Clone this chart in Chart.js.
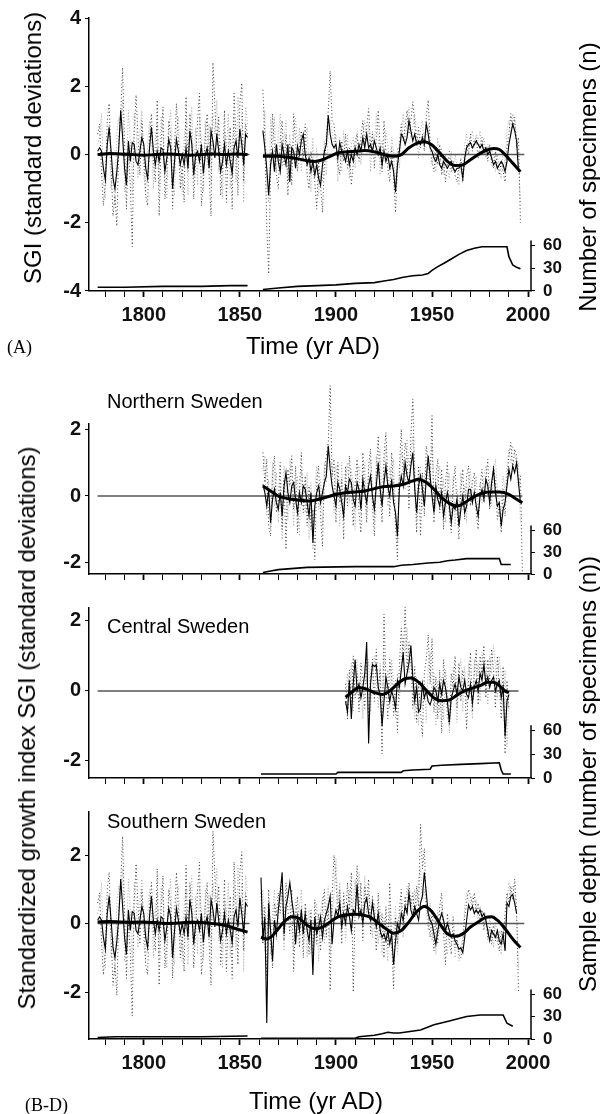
<!DOCTYPE html>
<html>
<head>
<meta charset="utf-8">
<script src="https://cdn.jsdelivr.net/npm/chart.js"></script>
<style>
  html, body { margin: 0; padding: 0; background: #fff; }
  #page { position: relative; width: 600px; height: 1114px; overflow: hidden; }
  .layer { position: absolute; left: 0; top: 0; width: 600px; height: 1114px; }
  .lbl { position: absolute; font-family: 'Liberation Sans', Arial, sans-serif; color: #000; white-space: nowrap; line-height: 1; }
  .rot { transform: translate(-50%, -50%) rotate(-90deg); }
  .mid { transform: translate(-50%, -50%); }
  .tag { font-family: 'Liberation Serif', 'Times New Roman', serif; font-size: 18px; transform: translateY(-50%); }
  .region { font-size: 20px; transform: translateY(-50%); }
</style>
</head>
<body>
<div id="page">
  <div class="layer"><canvas id="chartA"></canvas></div>
  <div class="layer"><canvas id="chartB"></canvas></div>
  <div class="layer"><canvas id="chartC"></canvas></div>
  <div class="layer"><canvas id="chartD"></canvas></div>

  <div class="lbl rot" style="left:33px; top:148px; font-size:24px;">SGI (standard deviations)</div>
  <div class="lbl rot" style="left:588px; top:177px; font-size:24px;">Number of specimens (n)</div>
  <div class="lbl mid" style="left:313px; top:346px; font-size:24px;">Time (yr AD)</div>
  <div class="lbl tag" style="left:7px; top:347px;">(A)</div>

  <div class="lbl region" style="left:107px; top:401px;">Northern Sweden</div>
  <div class="lbl region" style="left:107px; top:626px;">Central Sweden</div>
  <div class="lbl region" style="left:107px; top:821px;">Southern Sweden</div>

  <div class="lbl rot" style="left:27px; top:728px; font-size:24px;">Standardized growth index SGI (standard deviations)</div>
  <div class="lbl rot" style="left:588px; top:774px; font-size:24px;">Sample depth (number of specimens (n))</div>
  <div class="lbl mid" style="left:316px; top:1101px; font-size:24px;">Time (yr AD)</div>
  <div class="lbl tag" style="left:25px; top:1105px;">(B-D)</div>
</div>

<script>
// ---------- data ----------
const xTicks = [1780,1790,1800,1810,1820,1830,1840,1850,1860,1870,1880,1890,1900,1910,1920,1930,1940,1950,1960,1970,1980,1990,2000];
const sgiTicksA = [-4, -2, 0, 2, 4];
const sgiTicksBD = [-2, 0, 2];
const depthTicks = [0, 30, 60];

// southern record before the 1855-1861 gap (shared by A and D), annual from 1776
const southEarlyStart = 1776;
const southEarlySgi = [
  0.1, 0.2, 0.1, -0.4, -0.75, 0.3, 0.8, 0.1, -0.7, -1.0,
  -0.5, 0.2, 1.3, 0.5, -0.4, -0.9, 0.4, -0.2, 0.35, 0.3,
  -0.2, -0.3, 0.1, 0.5, 0.3, -0.4, -0.7, 0.2, 0.8, 0.1,
  -0.3, 0.1, -0.2, 0.2, 0.15, -0.5, -0.1, 0.45, 0.2, -1.0,
  -0.2, 0.45, 0.1, -0.3, 0.0, -0.3, 0.2, -0.4, 0.7, 0.3,
  -0.6, 0.0, 0.1, -0.2, 0.3, -0.55, 0.0, 0.2, -0.4, 0.7,
  0.4, -0.1, 0.6, 0.1, -0.5, -0.2, 0.3, -0.3, 0.1, -0.2,
  -0.55, 0.2, 0.4, -0.1, 0.75, 0.3, -0.3, 0.6, 0.5
];
const southEarlyDark = [
  0.6, 0.9, -0.5, -1.5, -0.8, 1.0, 1.5, -0.3, -1.8, -1.2,
  -2.1, 0.4, 1.2, 2.55, 0.3, -1.6, 0.2, -0.9, -2.7, 0.6,
  1.75, 0.5, -0.6, 1.0, 0.2, -1.2, -1.5, 0.5, 1.2, -0.2,
  -0.8, 1.6, -1.8, 0.3, 1.4, -1.3, -0.6, 1.0, 0.6, -1.6,
  0.2, 1.5, 0.4, -1.0, -0.3, -1.4, 1.7, -0.5, 1.2, 0.4,
  -1.3, -0.1, 1.0, 1.8, -1.5, -0.8, 0.5, 1.2, -0.6, -1.8,
  2.7, 1.4, 0.3, 1.1, -1.2, -0.4, 1.3, -1.4, 0.2, 0.8,
  -1.6, 1.8, 0.5, -1.2, 1.5, 2.1, -0.8, 0.9, 0.6
];
const southEarlyGrey = [
  0.3, 0.5, 1.2, -0.8, -1.3, 0.2, 0.9, -1.0, -0.4, -1.5,
  0.6, 1.1, 0.7, 1.6, -1.1, -0.5, 1.3, 0.4, -1.2, 1.2,
  0.8, -0.7, 0.6, 1.3, -0.6, -1.1, 0.3, 1.0, 0.4, -1.0,
  0.5, 0.9, -0.9, 1.1, 0.6, -0.6, -1.3, 0.7, 1.3, -0.7,
  -1.2, 0.8, 1.1, -0.4, -1.1, 0.5, 1.0, -1.2, 0.6, 1.4,
  -0.7, 0.8, -0.9, 1.1, 0.4, -1.1, 1.0, -0.3, 0.9, -0.9,
  1.2, 0.6, 1.6, -0.5, 0.4, -1.3, 0.7, 0.2, 1.2, -1.0,
  0.3, 1.1, -0.8, 1.7, 0.2, 1.2, -1.4, 1.4, 0.9
];
const smoothEarlyYears = [1776,1782,1788,1794,1800,1806,1812,1818,1824,1830,1836,1842,1848,1854];
const smoothEarlyA = [0.0, 0.03, 0.02, 0.0, -0.02, 0.0, 0.02, 0.0, -0.02, 0.0, 0.02, 0.0, 0.02, 0.0];
const smoothEarlyD = [0.05, 0.06, 0.05, 0.04, 0.05, 0.03, 0.0, 0.02, 0.04, 0.03, 0.0, -0.05, -0.15, -0.25];
const depthEarlyAYears = [1776, 1790, 1810, 1830, 1845, 1854];
const depthEarlyA = [5, 5, 6, 6, 7, 7];
const depthEarlyDYears = [1776, 1785, 1800, 1830, 1854];
const depthEarlyD = [2, 3, 3, 3, 4];

// (A) Sweden, after the gap
const aLateStart = 1862;
const aLateSgi = [
  0.7, 0.2, -0.4, -1.2, -0.3, 0.1, -0.5, 0.3, -0.2, -0.5,
  0.3, 0.0, -0.3, 0.3, -0.8, 0.2, 0.1, -0.4, 0.25, 0.0,
  0.4, 0.6, 0.0, -0.3, -0.1, -0.5, -0.2, -0.6, -0.3, -0.7,
  -0.9, -0.3, 0.1, 0.3, 1.15, 0.6, 0.3, 0.2, 0.3, -0.1,
  0.35, 0.1, 0.0, -0.2, 0.1, -0.3, 0.0, -0.2, 0.2, 0.0,
  0.3, 0.1, 0.5, 0.2, 0.6, 0.2, 0.3, 0.1, 0.4, 0.2,
  0.0, 0.2, -0.3, 0.1, -0.2, 0.0, -0.4, -0.2, -0.5, -1.1,
  -0.3, 0.1, 0.6, 0.5, 0.3, 0.5, 1.0, 0.7, 0.4, 0.6,
  0.3, 0.4, 0.3, 0.5, 0.3, 0.9, 0.6, 0.2, 0.1, -0.1,
  -0.2, 0.0, -0.3, -0.4, -0.2, -0.3, -0.4, -0.3, -0.2, -0.4,
  -0.5, -0.4, -0.4, -0.3, -0.7, -0.1, 0.2, 0.3, 0.35, 0.2,
  0.3, 0.4, 0.3, 0.2, 0.3, 0.1, 0.2, 0.0, 0.1, -0.1,
  -0.3, -0.2, -0.4, -0.3, -0.2, -0.3, -0.5, -0.2, 0.3, 0.6,
  0.9, 0.7, 0.4, -0.5
];
const aLateDark = [
  1.9, 0.5, -2.1, -3.5, -0.4, 1.2, 0.2, -0.6, -1.0, 0.4,
  1.0, -0.3, 0.6, -1.2, 0.3, -0.9, 1.2, 0.4, -0.5, 0.2,
  0.7, -0.2, 0.9, -0.6, -1.0, 0.1, -0.4, -0.8, -1.6, -0.2,
  -0.9, -1.7, -0.3, 0.5, 1.3, 2.45, 1.0, 0.9, 0.2, -0.3,
  -0.6, 0.4, -0.2, 0.6, -0.4, 0.2, -0.9, -0.3, 0.4, 0.6,
  -0.2, 0.5, 1.0, 0.3, 0.8, 1.35, 0.2, 0.6, -0.4, 0.5,
  1.3, 0.2, -0.5, 1.0, 0.1, -0.4, -0.8, 0.2, -0.6, -1.7,
  -0.4, 0.3, 0.9, 0.4, 0.8, 1.3, 0.6, 1.0, 1.55, 0.9,
  0.3, 0.8, 0.2, 0.6, 0.1, 1.1, 1.6, 0.4, -0.2, -0.5,
  0.2, -0.3, 0.3, -0.6, -0.2, -0.8, -0.3, 0.1, -0.5, -0.2,
  -0.6, -0.8, -0.4, -0.1, -0.8, -0.2, 0.3, 0.0, 0.6, 0.1,
  0.4, 0.5, -0.1, 0.3, 0.5, 0.0, 0.2, -0.2, 0.3, -0.3,
  -0.4, 0.1, -0.3, -0.6, -0.2, -0.5, -0.8, 0.2, 0.6, 1.2,
  0.8, 1.1, 0.2, 0.5, -2.0
];
const aLateGrey = [
  0.6, 1.3, -0.8, -1.4, 1.1, 0.3, 1.1, -0.5, 0.6, 1.2,
  -0.4, 0.5, 1.0, -0.8, 0.6, -0.3, 0.5, 1.1, 0.2, 0.8,
  -0.5, 0.4, 0.3, 0.8, -0.3, -1.1, 0.5, -0.6, 0.2, -1.2,
  -0.5, -0.8, 0.4, -0.6, 0.7, 1.0, 0.7, 0.3, 0.6, -0.8,
  0.5, -0.5, 0.7, -0.2, 0.6, -0.7, 0.3, 0.5, -0.4, 0.7,
  0.2, -0.3, 0.6, 1.0, 0.4, 0.9, -0.5, 0.7, 0.3, 1.2,
  0.5, -0.6, 0.4, -0.2, 0.7, 0.3, -0.4, 0.5, 0.1, -0.9,
  0.2, -0.4, 0.5, 1.2, 0.4, 0.9, 1.4, 0.5, 0.8, 1.2,
  0.6, -0.1, 0.7, 1.0, 0.3, 0.6, 0.9, 0.1, -0.3, 0.3,
  -0.5, 0.5, -0.3, 0.2, -0.6, 0.0, -0.4, -0.7, 0.1, -0.5,
  0.0, -0.3, -0.9, -0.2, -0.6, 0.3, 0.6, 0.2, 0.5, 0.7,
  0.2, 0.6, 0.4, 0.7, 0.2, 0.5, -0.1, 0.3, 0.1, 0.2,
  -0.2, -0.5, 0.0, -0.4, -0.7, 0.1, -0.3, 0.7, 1.0, 0.6,
  1.2, 0.9, 0.6, -0.3, -1.4
];
const aSmoothYears = [1862,1866,1870,1875,1880,1885,1889,1893,1897,1901,1905,1910,1915,1920,1925,1930,1934,1938,1942,1946,1950,1954,1958,1962,1966,1970,1974,1978,1982,1985,1988,1992,1996];
const aSmooth = [-0.05,-0.05,-0.05,-0.08,-0.12,-0.18,-0.2,-0.15,-0.05,0.05,0.08,0.1,0.12,0.08,0.0,-0.05,0.0,0.2,0.33,0.38,0.28,0.05,-0.2,-0.32,-0.3,-0.15,0.0,0.12,0.18,0.15,0.0,-0.25,-0.5];
const aDepthYears = [1862,1870,1880,1890,1900,1910,1920,1925,1930,1935,1940,1945,1948,1950,1953,1956,1960,1964,1968,1972,1976,1980,1985,1989,1990,1992,1994,1996];
const aDepth = [2,4,6,7,8,10,11,13,15,18,20,21,23,27,32,36,42,48,53,56,58,58,58,58,45,34,31,29];

// (B) Northern Sweden
const bStart = 1862;
const bSgi = [
  0.35, 0.1, -0.3, 0.2, -0.8, -0.1, 0.2, -0.2, -0.4, 0.1,
  -0.6, 0.3, 0.7, 0.1, -0.2, 0.3, 0.4, -0.1, -0.5, 0.1,
  -0.2, 0.3, 0.2, -0.2, -0.6, 0.1, -1.4, -0.3, 0.1, 0.3,
  -0.2, 0.1, 0.4, 0.6, 1.5, 0.8, 0.3, 0.0, -0.3, 0.4,
  0.2, -0.2, -0.6, 0.3, 0.1, 0.5, 0.4, -0.1, -0.3, 0.4,
  0.2, -0.4, 0.5, 0.1, -0.2, 0.3, 0.6, 0.0, -0.4, 0.3,
  1.0, 0.2, -0.3, 0.4, 0.9, 0.3, 0.0, 0.5, -0.2, -0.5,
  -1.2, 0.2, 0.6, 0.3, 1.0, 0.6, 0.4, 0.9, 1.3, 0.2,
  -0.5, 0.3, 0.6, 0.2, -0.3, 0.5, 1.2, 0.6, 0.0, -0.5,
  0.3, -0.1, -0.3, 0.1, -0.6, -0.2, 0.1, -0.3, -0.8, -0.3,
  -0.4, -0.1, -0.9, -0.4, 0.0, -0.5, -0.3, 0.2, 0.2, -0.2,
  0.1, -0.3, -0.6, 0.0, 0.2, -0.1, 0.5, 0.3, -0.2, 0.4,
  0.8, 0.1, -0.3, -0.2, -0.9, -0.4, -0.2, 0.3, 0.8, 0.5,
  0.9, 0.7, 1.0, 0.4, -0.2
];
const bDark = [
  1.3, 0.4, 1.1, -0.9, -1.2, 0.6, 1.2, -0.5, -0.2, 1.0,
  -1.0, 0.5, -1.6, 0.8, 0.3, 1.2, -0.4, 0.9, -1.1, 0.2,
  1.3, -0.5, 0.6, -0.9, 0.3, -1.0, -0.4, -1.9, 0.5, 0.9,
  -0.6, -1.5, 0.7, 1.2, 1.6, 3.3, 0.6, 1.1, -0.8, 1.0,
  -0.2, 0.5, -1.3, 0.9, -0.3, 1.2, 0.3, -0.9, 0.4, 1.1,
  -0.5, -1.1, 1.3, 0.2, -0.8, 0.9, 1.4, -0.3, -1.2, 0.7,
  1.8, 0.1, -0.8, 1.2, 1.9, 0.5, -0.6, 1.3, 0.2, -0.9,
  -1.9, 0.8, 2.0, 0.6, 1.6, 1.2, -0.4, 1.8, 2.9, 0.4,
  -1.1, 0.9, -1.2, 0.7, -0.6, 1.5, 1.1, 0.3, 2.4, -0.8,
  0.6, 1.1, -0.5, 0.8, -1.0, 0.4, 1.0, -0.6, -1.1, 0.3,
  0.9, -0.4, -1.3, 0.2, 0.8, -0.7, 0.6, 0.9, -0.3, 0.4,
  0.7, -0.5, -1.0, 0.3, 0.8, -0.2, 0.5, 1.1, -0.4, 0.2,
  0.9, 0.4, -0.7, -0.3, -1.1, 0.2, -0.6, 0.5, 1.2, 1.6,
  0.8, 1.4, 1.2, 0.3, 0.6, -2.3
];
const bGrey = [
  0.8, 1.2, -0.6, 0.5, -1.0, 1.0, -0.3, 0.7, -0.8, 0.4,
  -1.3, 0.9, 0.2, -0.7, 1.1, 0.5, -0.9, 0.3, 0.6, -1.2,
  0.8, 0.1, -0.5, 0.7, -1.3, 0.4, -1.6, 0.2, 0.9, -0.4,
  0.5, -0.9, 1.0, 0.4, 1.4, 1.1, 0.8, -0.5, 0.9, 0.3,
  -0.9, 1.0, -0.4, 0.6, 1.0, -0.2, 0.8, 0.3, -1.0, 0.6,
  0.9, -0.6, 0.4, 1.0, -0.5, 0.7, 1.1, 0.2, -0.8, 1.2,
  0.6, 1.4, -0.4, 0.8, 1.5, -0.3, 0.9, 0.4, 1.1, -0.6,
  -1.4, 0.5, 1.3, 1.0, 0.2, 1.7, 0.9, 1.2, 1.8, 1.0,
  -0.7, 0.5, 0.9, -0.4, 0.6, 1.0, 0.3, 0.9, 1.5, 0.2,
  -0.4, 0.6, 0.9, -0.3, 0.5, -0.8, 0.4, 0.7, -0.5, 0.6,
  -0.9, 0.2, -0.6, 0.7, -0.4, 0.3, -0.8, 0.5, 0.8, -0.3,
  0.3, 0.6, -0.7, 0.4, -0.2, 0.6, 0.9, 0.0, 0.5, -0.3,
  0.7, 1.1, 0.2, -0.6, -0.3, 0.6, 0.1, 0.9, 1.4, 1.0,
  1.5, 1.3, 0.8, 1.0, -0.8
];
const bSmoothYears = [1862,1866,1870,1875,1880,1886,1891,1896,1900,1905,1910,1915,1920,1925,1930,1935,1940,1943,1947,1951,1955,1959,1963,1967,1971,1976,1981,1985,1990,1994,1997];
const bSmooth = [0.3,0.15,0.0,-0.08,-0.12,-0.15,-0.1,-0.02,0.05,0.1,0.12,0.15,0.22,0.28,0.3,0.35,0.45,0.5,0.4,0.2,-0.05,-0.22,-0.3,-0.2,-0.05,0.08,0.12,0.12,0.05,-0.1,-0.2];
const bDepthYears = [1862,1866,1870,1875,1880,1885,1910,1930,1934,1940,1944,1948,1954,1958,1962,1968,1985,1986,1991];
const bDepth = [2,4,6,7,8,9,10,10,12,13,14,15,16,18,19,21,21,13,13];

// (C) Central Sweden
const cStart = 1905;
const cSgi = [
  -0.3, -0.6, 0.3, -0.8, 0.2, 0.9, 0.0, 0.2, -0.2, 0.1,
  0.5, 1.4, -1.5, 0.2, 0.75, 0.7, 0.75, 0.1, -0.1, -1.0,
  -0.3, 0.4, 0.1, -0.3, 0.0, -0.2, -0.5, 0.3, 0.1, 0.6,
  1.1, 0.2, 0.5, 0.8, 1.3, 0.4, -0.3, 0.1, -0.6, -0.5,
  0.2, -0.2, 0.0, -0.3, -0.4, -0.2, 0.1, 0.0, -0.3, 0.2,
  -0.1, 0.3, 0.1, -0.3, -0.9, -0.2, 0.0, 0.2, -0.1, 0.4,
  0.1, 0.0, 0.3, -0.1, -0.2, 0.2, -0.35, 0.1, 0.3, 0.0,
  0.5, 0.3, 0.75, 0.2, 0.4, 0.1, 0.3, 0.4, 0.0, 0.2,
  0.3, -0.2, 0.1, -1.3, -0.3, -0.1
];
const cDark = [
  0.2, -0.8, 0.6, -0.4, 1.0, -0.2, 0.5, -0.6, 0.8, 0.3,
  -0.5, 1.0, -0.9, 0.4, 0.9, -0.3, 1.2, 0.0, 0.6, -1.8,
  2.2, 0.3, -0.8, 0.9, 0.4, -0.7, 0.3, -1.2, 0.7, 1.8,
  0.9, 2.4, 0.6, 1.4, 1.0, -0.5, 0.7, -0.9, 0.2, -0.6,
  -1.3, 0.5, 0.9, 1.6, 0.2, 1.5, -0.6, 0.4, -0.8, 0.6,
  -1.2, 0.9, 0.2, -0.7, -1.0, 0.5, 0.1, 1.0, -0.5, 0.8,
  -0.3, 0.6, 0.2, -1.1, 0.3, 1.1, -0.6, 0.5, 1.2, -0.4,
  1.0, 0.4, 1.3, -0.2, 0.9, 0.3, 1.2, 0.6, -0.5, 1.0,
  0.2, -0.8, 0.7, -1.8, 0.3, -0.5
];
const cGrey = [
  -0.4, 0.5, -0.2, 0.8, -0.6, 0.6, 0.9, -0.3, 0.4, -0.8,
  0.7, 0.2, 0.9, -0.6, 0.3, 1.0, 0.4, -0.5, 0.8, -0.9,
  1.1, -0.2, 0.6, -0.5, 0.9, 0.2, -0.8, 0.5, -0.3, 0.9,
  1.5, 1.0, 1.8, 0.5, 0.9, 0.1, -0.8, 0.4, -1.0, 0.3,
  -0.5, 0.2, -0.9, 0.7, 1.1, -0.3, 0.5, -1.0, 0.3, -0.6,
  0.4, -0.8, 0.6, 0.1, -1.2, -0.4, 0.7, 0.2, -0.9, 0.5,
  0.9, -0.6, 0.7, -0.4, 0.8, 0.2, -0.8, 0.9, 0.4, 0.8,
  -0.3, 1.1, 0.6, 0.9, -0.4, 1.0, 0.5, 1.3, 0.7, -0.2,
  1.0, 0.4, -0.6, 0.6, -1.6, 0.0
];
const cSmoothYears = [1905,1908,1912,1916,1920,1924,1928,1932,1936,1939,1943,1947,1951,1955,1959,1963,1967,1971,1975,1979,1982,1985,1988,1990];
const cSmooth = [-0.18,-0.05,0.1,0.05,-0.05,-0.1,0.0,0.2,0.35,0.37,0.25,0.02,-0.2,-0.28,-0.26,-0.12,0.0,0.08,0.15,0.25,0.25,0.15,0.0,-0.05];
const cDepthYears = [1861,1900,1901,1934,1935,1940,1949,1950,1955,1965,1975,1985,1986,1987,1991];
const cDepth = [5,5,7,7,9,10,11,15,16,17,18,19,10,5,5];

// (D) Southern Sweden, after the gap
const dLateStart = 1861;
const dLateSgi = [
  1.35, -0.5, 0.2, -2.9, 0.6, -0.2, -1.1, 0.1, -0.3, 0.4,
  0.9, 1.5, -0.3, 0.5, 0.8, 1.2, 0.7, 0.3, -0.6, 0.2,
  -0.2, 0.4, -0.3, 0.3, -0.2, -0.5, 0.1, -1.5, 0.2, -0.3,
  -0.1, 0.2, -0.4, 0.1, 0.3, 0.5, 0.8, -0.6, 0.1, 0.4,
  0.2, 0.6, -0.1, 0.3, 0.0, 0.5, 0.2, -0.2, 0.4, 0.3,
  1.15, 0.2, 0.4, 0.0, 0.6, 0.75, 0.3, 0.1, 0.6, 0.2,
  -0.1, 0.3, -0.2, -0.4, -0.3, -0.5, -0.2, -0.6, -0.3, -1.2,
  -0.5, 0.0, -0.2, 0.3, 0.1, 0.5, 0.3, 0.9, 0.4, 0.2,
  0.5, 0.3, 0.1, 0.6, 0.8, 1.5, 0.9, 0.3, 0.1, 0.0,
  -0.3, -0.6, -0.2, 0.1, 0.3, 0.1, -0.2, 0.0, -0.2, -0.4,
  -0.3, -0.5, -0.6, -0.75, -0.7, -0.85, -0.4, 0.1, 0.55, 0.4,
  0.5, 0.3, 0.4, 0.3, 0.4, 0.2, 0.3, 0.1, -0.2, -0.5,
  -0.2, -0.3, -0.4, -0.2, -0.5, -0.6, -0.3, -0.8, 0.6, 0.5,
  0.8, 0.85, 0.6, 0.3
];
const dLateDark = [
  0.9, -0.6, 0.5, -1.6, 1.0, -0.4, -1.3, 0.6, 0.2, 0.9,
  0.3, 1.3, -0.5, 1.2, 0.4, -0.3, 1.0, -1.4, 0.2, 0.8,
  -0.7, 0.5, -1.0, 0.6, 0.1, -0.9, 0.4, -1.2, 0.7, -0.6,
  0.3, -0.8, 0.5, 1.0, -0.4, 0.6, -1.95, 0.8, 2.0, 1.3,
  0.2, 1.0, -0.6, 0.9, 0.1, 1.2, 0.4, 1.5, -2.0, 0.5,
  1.7, 0.3, 1.2, -0.5, 1.1, 0.6, 1.3, -0.3, 0.8, 0.2,
  -0.8, 0.9, -0.4, 0.3, -1.0, 0.5, -0.7, 1.2, -0.5, -1.9,
  0.2, -0.6, 0.4, 1.0, -0.2, 0.8, 0.3, 1.2, 0.5, 0.9,
  0.2, 1.1, 0.5, 2.9, 1.6, 2.2, 0.6, 0.2, -0.4, 0.4,
  -0.8, 0.1, -0.6, 0.5, 0.9, -0.3, -1.2, 0.3, -0.5, -0.9,
  0.2, -0.7, -0.4, -0.9, -1.0, -0.6, 0.2, 0.6, 1.0, 0.8,
  0.5, 0.9, 0.3, 0.6, 0.1, 0.4, -0.2, 0.2, -0.4, -0.1,
  -0.6, 0.0, -0.5, -0.3, -0.8, -0.2, -0.6, 0.3, 0.9, 0.6,
  1.1, 0.7, 1.3, 0.4, -2.0
];
const dLateGrey = [
  0.4, 1.0, -0.8, -0.3, 0.7, -0.9, 0.3, 1.0, -0.5, 0.2,
  1.1, 0.6, -0.8, 0.3, 1.0, 0.5, -0.2, -0.8, 0.7, -0.4,
  0.5, 1.0, -0.6, 0.2, -1.0, 0.4, -0.9, 0.1, -0.5, 0.6,
  -1.1, 0.3, 0.8, -0.6, 0.4, 1.1, -0.9, 0.3, 0.9, 1.9,
  0.6, 1.2, 0.0, 0.7, -0.5, 0.4, 1.0, -0.3, 0.6, 1.3,
  0.4, 1.5, 0.8, 0.2, 1.4, 0.3, 0.9, 0.5, -0.4, 0.6,
  0.1, -0.6, 0.5, -0.9, 0.2, -0.4, -1.1, 0.4, -0.8, -0.2,
  0.5, -0.9, 0.2, 0.6, -0.4, 0.4, 1.1, 0.6, 0.8, 0.3,
  1.0, 0.5, 1.3, 1.6, 0.7, 1.0, 0.4, -0.2, 0.6, -0.5,
  0.3, -0.9, 0.4, -0.3, 0.6, 0.2, -0.6, -0.9, 0.1, -0.6,
  -0.3, -1.0, -0.5, -1.1, -0.7, -0.4, 0.5, 0.9, 0.7, 0.6,
  0.8, 0.2, 0.7, 0.0, 0.5, 0.3, -0.1, 0.3, -0.5, 0.2,
  -0.3, -0.7, 0.1, -0.6, -0.2, -0.9, 0.0, -0.4, 0.7, 1.2,
  0.8, 1.1, 0.9, 0.2, -1.3
];
const dSmoothYears = [1861,1864,1867,1870,1873,1877,1881,1885,1889,1893,1897,1901,1905,1910,1914,1918,1922,1926,1930,1934,1938,1942,1946,1950,1954,1958,1962,1966,1970,1974,1978,1981,1984,1988,1992,1996];
const dSmooth = [-0.4,-0.45,-0.35,-0.15,0.05,0.2,0.15,-0.05,-0.15,-0.1,0.05,0.2,0.25,0.27,0.25,0.18,0.02,-0.15,-0.28,-0.2,0.05,0.35,0.5,0.35,0.0,-0.3,-0.37,-0.3,-0.1,0.05,0.18,0.2,0.1,-0.15,-0.45,-0.7];
const dDepthYears = [1861,1910,1912,1920,1924,1927,1930,1933,1944,1951,1959,1968,1975,1987,1989,1992];
const dDepth = [1,1,3,5,7,9,8,8,12,19,24,30,32,32,21,17];

// mean (zero) reference lines: [from, to] per record segment
const zeroA = [[1776, 1855], [1862, 1998]];
const zeroB = [[1776, 1997]];
const zeroC = [[1776, 1995]];
const zeroD = [[1776, 1855], [1861, 1998]];

// ---------- helpers ----------
const annual = (start, vals) => vals.map((v, i) => ({ x: start + i, y: v }));
const paired = (years, vals) => years.map((yr, i) => ({ x: yr, y: vals[i] }));

const tickFont = { family: "'Liberation Sans', Arial, sans-serif", size: 20, weight: 'bold' };
const depthFont = { family: "'Liberation Sans', Arial, sans-serif", size: 17, weight: 'bold' };

function smoothSet(data) { return { data, borderColor: '#000', borderWidth: 3, cubicInterpolationMode: 'monotone', yAxisID: 'y' }; }
function sgiSet(data) { return { data, borderColor: '#000', borderWidth: 1.1, yAxisID: 'y' }; }
function darkSet(data) { return { data, borderColor: '#3a3a3a', borderWidth: 1, borderDash: [1, 2.5], yAxisID: 'y' }; }
function greySet(data) { return { data, borderColor: '#ababab', borderWidth: 1, borderDash: [1, 2], yAxisID: 'y' }; }
function depthSet(data) { return { data, borderColor: '#000', borderWidth: 1.6, yAxisID: 'yN' }; }
function zeroSets(spans) {
  return spans.map(s => ({ data: [{ x: s[0], y: 0 }, { x: s[1], y: 0 }], borderColor: '#555', borderWidth: 1.5, yAxisID: 'y' }));
}

// short right-hand axis line for the sample depth scale
const depthAxisLine = {
  id: 'depthAxisLine',
  afterDraw(chart) {
    const s = chart.scales.yN;
    const x = chart.chartArea.right;
    const ctx = chart.ctx;
    ctx.save();
    ctx.strokeStyle = '#000';
    ctx.lineWidth = 1.5;
    ctx.beginPath();
    ctx.moveTo(x, s.getPixelForValue(0));
    ctx.lineTo(x, s.getPixelForValue(66));
    ctx.stroke();
    ctx.restore();
  }
};

function makePanel(id, p) {
  const H = p.bottom - p.top;
  const depthMax = 60 * H / p.px60;
  const xH = p.labels ? 46 : 10;
  new Chart(document.getElementById(id), {
    type: 'line',
    data: { datasets: p.datasets.map(d => Object.assign({ pointRadius: 0, tension: 0, clip: false, fill: false }, d)) },
    plugins: [depthAxisLine],
    options: {
      responsive: true,
      maintainAspectRatio: false,
      animation: false,
      events: [],
      layout: { padding: { top: p.top, bottom: 1114 - p.bottom - xH, left: 0, right: 0 } },
      plugins: { legend: { display: false }, tooltip: { enabled: false } },
      scales: {
        x: {
          type: 'linear', min: 1771.5, max: 2001.5,
          afterBuildTicks: s => { s.ticks = xTicks.map(v => ({ value: v })); },
          afterFit: s => { s.height = xH; },
          border: { color: '#000', width: 1.5 },
          grid: { drawOnChartArea: false, drawTicks: true, tickLength: 6, tickColor: '#000',
                  tickWidth: c => (c.tick && c.tick.value % 50 === 0) ? 1.8 : 1 },
          ticks: { display: p.labels, autoSkip: false, maxRotation: 0, padding: 6, color: '#111', font: tickFont,
                   callback: v => (v % 50 === 0 ? String(v) : '') }
        },
        y: {
          position: 'left', min: p.yMin, max: p.yMax,
          afterBuildTicks: s => { s.ticks = p.yTicks.map(v => ({ value: v })); },
          afterFit: s => { s.width = 89; },
          border: { color: '#000', width: 1.5 },
          grid: { drawOnChartArea: false, tickLength: 4, tickColor: '#000' },
          ticks: { padding: 4, color: '#111', font: tickFont, callback: v => String(v) }
        },
        yN: {
          position: 'right', min: 0, max: depthMax,
          afterBuildTicks: s => { s.ticks = depthTicks.map(v => ({ value: v })); },
          afterFit: s => { s.width = 69; },
          border: { display: false },
          grid: { drawOnChartArea: false, tickLength: 4, tickColor: '#000' },
          ticks: { padding: 8, color: '#111', font: depthFont, callback: v => String(v) }
        }
      }
    }
  });
}

// ---------- panels ----------
makePanel('chartA', {
  top: 17, bottom: 291, yMin: -4, yMax: 4, yTicks: sgiTicksA, px60: 46, labels: true,
  datasets: [
    smoothSet(paired(smoothEarlyYears, smoothEarlyA)),
    smoothSet(paired(aSmoothYears, aSmooth)),
    sgiSet(annual(southEarlyStart, southEarlySgi)),
    sgiSet(annual(aLateStart, aLateSgi)),
    ...zeroSets(zeroA),
    darkSet(annual(southEarlyStart, southEarlyDark)),
    darkSet(annual(aLateStart, aLateDark)),
    greySet(annual(southEarlyStart, southEarlyGrey)),
    greySet(annual(aLateStart, aLateGrey)),
    depthSet(paired(depthEarlyAYears, depthEarlyA)),
    depthSet(paired(aDepthYears, aDepth))
  ]
});

makePanel('chartB', {
  top: 424, bottom: 574, yMin: -2.33, yMax: 2.15, yTicks: sgiTicksBD, px60: 44, labels: false,
  datasets: [
    smoothSet(paired(bSmoothYears, bSmooth)),
    sgiSet(annual(bStart, bSgi)),
    ...zeroSets(zeroB),
    darkSet(annual(bStart, bDark)),
    greySet(annual(bStart, bGrey)),
    depthSet(paired(bDepthYears, bDepth))
  ]
});

makePanel('chartC', {
  top: 608, bottom: 778, yMin: -2.49, yMax: 2.37, yTicks: sgiTicksBD, px60: 48, labels: false,
  datasets: [
    smoothSet(paired(cSmoothYears, cSmooth)),
    sgiSet(annual(cStart, cSgi)),
    ...zeroSets(zeroC),
    darkSet(annual(cStart, cDark)),
    greySet(annual(cStart, cGrey)),
    depthSet(paired(cDepthYears, cDepth))
  ]
});

makePanel('chartD', {
  top: 812, bottom: 1039, yMin: -3.37, yMax: 3.26, yTicks: sgiTicksBD, px60: 45, labels: true,
  datasets: [
    smoothSet(paired(smoothEarlyYears, smoothEarlyD)),
    smoothSet(paired(dSmoothYears, dSmooth)),
    sgiSet(annual(southEarlyStart, southEarlySgi)),
    sgiSet(annual(dLateStart, dLateSgi)),
    ...zeroSets(zeroD),
    darkSet(annual(southEarlyStart, southEarlyDark)),
    darkSet(annual(dLateStart, dLateDark)),
    greySet(annual(southEarlyStart, southEarlyGrey)),
    greySet(annual(dLateStart, dLateGrey)),
    depthSet(paired(depthEarlyDYears, depthEarlyD)),
    depthSet(paired(dDepthYears, dDepth))
  ]
});
</script>
</body>
</html>
